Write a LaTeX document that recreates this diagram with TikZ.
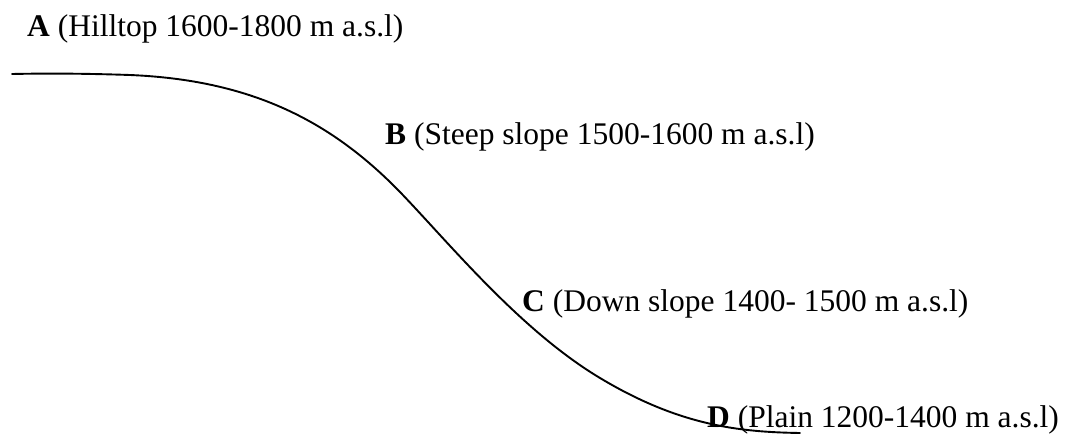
\documentclass[tikz,border=0pt]{standalone}
\usepackage{fontspec}
\setmainfont{Liberation Serif}
\begin{document}
\begin{tikzpicture}[x=1pt,y=-1pt,
  lbl/.style={anchor=base west,inner sep=0pt,font=\fontsize{31.5}{36}\selectfont},
  terrain/.style={line width=1.9pt,line cap=round,line join=round}]
\useasboundingbox (0,0) rectangle (1070,434);
\coordinate (p0) at (12,74);
\coordinate (p1) at (130,75);
\coordinate (p2) at (400,192);
\coordinate (p3) at (600,378);
\coordinate (p4) at (800,433);
\draw[terrain] (p0) .. controls (60,73) and (100,74) .. (p1)
  .. controls (250,80) and (330,120) .. (p2)
  .. controls (450,244) and (520,330) .. (p3)
  .. controls (680,426) and (740,432) .. (p4);
\node[lbl] (A) at (27,36) {\textbf{A} (Hilltop 1600-1800 m a.s.l)};
\node[lbl] (B) at (385,144) {\textbf{B} (Steep slope 1500-1600 m a.s.l)};
\node[lbl] (C) at (522,311) {\textbf{C} (Down slope 1400- 1500 m a.s.l)};
\node[lbl] (D) at (707,427) {\textbf{D} (Plain 1200-1400 m a.s.l)};
\end{tikzpicture}
\end{document}
